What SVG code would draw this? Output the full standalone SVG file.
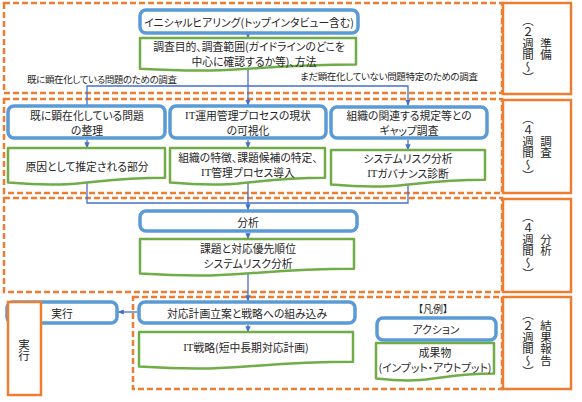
<svg xmlns="http://www.w3.org/2000/svg" width="582" height="402" viewBox="0 0 582 402">
<defs>
<style>
text{font-family:"Noto Sans CJK JP","Noto Sans",sans-serif;fill:#262626;font-size:10.8px;text-anchor:middle;dominant-baseline:central;font-feature-settings:"palt" 1;}
.lat{font-family:"Liberation Serif",serif;}
.sec{fill:none;stroke:#ED7D31;stroke-width:2.5;stroke-dasharray:6 3;}
.lbl{fill:#fff;stroke:#ED7D31;stroke-width:2.5;}
.act{fill:#fff;stroke:#5B9BD5;stroke-width:3.5;}
.doc{fill:#fff;stroke:#70AD47;stroke-width:2.5;stroke-linejoin:round;}
.con{fill:none;stroke:#4472C4;stroke-width:1.3;}
.small{font-size:9.5px;}
.vt{writing-mode:vertical-rl;font-size:11.5px;font-feature-settings:normal;}
</style>
<marker id="ah" viewBox="0 0 10 10" refX="9" refY="5" markerWidth="5" markerHeight="5" orient="auto">
<path d="M0,1 L10,5 L0,9 z" fill="#4472C4"/>
</marker>
</defs>
<rect width="582" height="402" fill="#fff"/>

<g id="sections">
<rect class="sec" x="4" y="3" width="498" height="90"/>
<rect class="sec" x="4" y="99" width="498" height="94"/>
<rect class="sec" x="4" y="198" width="498" height="94"/>
<rect class="sec" x="133" y="297" width="369" height="92"/>
</g>

<g id="phase-prep">
<rect class="lbl" x="503" y="3" width="68" height="91"/>
<text class="vt" x="528" y="49">（２週間～）</text>
<text class="vt" x="546" y="49">準備</text>
</g>
<g id="phase-survey">
<rect class="lbl" x="503" y="100" width="68" height="93"/>
<text class="vt" x="528" y="147">（４週間～）</text>
<text class="vt" x="546" y="147">調査</text>
</g>
<g id="phase-analysis">
<rect class="lbl" x="503" y="199" width="68" height="93"/>
<text class="vt" x="528" y="245">（４週間～）</text>
<text class="vt" x="546" y="245">分析</text>
</g>
<g id="phase-report">
<rect class="lbl" x="503" y="297" width="68" height="92"/>
<text class="vt" x="528" y="343">（２週間～）</text>
<text class="vt" x="546" y="343">結果報告</text>
</g>

<g id="connectors">
<line class="con" x1="248" y1="34" x2="248" y2="38" marker-end="url(#ah)"/>
<polyline class="con" points="248,68 248,105.5" marker-end="url(#ah)"/>
<polyline class="con" points="87,105 87,86 408,86 408,105.5" marker-end="url(#ah)"/>
<line class="con" x1="87" y1="140" x2="87" y2="148" marker-end="url(#ah)"/>
<line class="con" x1="248" y1="140" x2="248" y2="148" marker-end="url(#ah)"/>
<line class="con" x1="408" y1="140" x2="408" y2="150" marker-end="url(#ah)"/>
<polyline class="con" points="87,182 87,203 408,203 408,184"/>
<line class="con" x1="248" y1="183" x2="248" y2="210" marker-end="url(#ah)"/>
<line class="con" x1="248" y1="233" x2="248" y2="239" marker-end="url(#ah)"/>
<line class="con" x1="248" y1="273" x2="248" y2="301" marker-end="url(#ah)"/>
<line class="con" x1="248" y1="325" x2="248" y2="332" marker-end="url(#ah)"/>
<line class="con" x1="137" y1="312" x2="118" y2="312" marker-end="url(#ah)"/>
</g>

<g id="edge-labels">
<text class="small" x="102" y="79" textLength="150">既に顕在化している問題のための調査</text>
<text class="small" x="389" y="76" textLength="178">まだ顕在化していない問題特定のための調査</text>
</g>

<g id="n-hearing">
<rect class="act" x="140" y="10" width="218" height="23" rx="6"/>
<text x="249" y="22">イニシャルヒアリング(トップインタビュー含む)</text>
</g>
<g id="n-purpose">
<path class="doc" d="M140,38 H356 V64.5 C248,64.5 248,74.5 140,68.8 Z"/>
<text x="249" y="46">調査目的、調査範囲(ガイドラインのどこを</text>
<text x="254" y="60.5">中心に確認するか等)、方法</text>
</g>

<g id="n-existing">
<rect class="act" x="8" y="106" width="157" height="32" rx="6"/>
<text x="87" y="115">既に顕在化している問題</text>
<text x="87" y="130">の整理</text>
</g>
<g id="n-itprocess">
<rect class="act" x="170" y="106" width="156" height="32" rx="6"/>
<text x="248" y="115"><tspan class="lat">IT</tspan>運用管理プロセスの現状</text>
<text x="248" y="130">の可視化</text>
</g>
<g id="n-gap">
<rect class="act" x="331" y="107" width="156" height="31" rx="6"/>
<text x="409" y="115">組織の関連する規定等との</text>
<text x="409" y="130">ギャップ調査</text>
</g>

<g id="n-cause">
<path class="doc" d="M8,148 H165 V177.7 C86.5,177.7 86.5,189 8,182.6 Z"/>
<text x="87" y="166">原因として推定される部分</text>
</g>
<g id="n-features">
<path class="doc" d="M170,148 H325 V177.7 C247.5,177.7 247.5,189 170,182.6 Z"/>
<text x="248" y="156.5">組織の特徴、課題候補の特定、</text>
<text x="248" y="171.5"><tspan class="lat">IT</tspan>管理プロセス導入</text>
</g>
<g id="n-risk">
<path class="doc" d="M331,150 H485 V179.7 C408,179.7 408,191 331,184.6 Z"/>
<text x="408" y="157.5">システムリスク分析</text>
<text x="408" y="172.5"><tspan class="lat">IT</tspan>ガバナンス診断</text>
</g>

<g id="n-analysis">
<rect class="act" x="140" y="211" width="217" height="20" rx="6"/>
<text x="248" y="222">分析</text>
</g>
<g id="n-priority">
<path class="doc" d="M140,239 H354 V268.7 C247,268.7 247,280 140,273.6 Z"/>
<text x="248" y="247.5">課題と対応優先順位</text>
<text x="248" y="262.5">システムリスク分析</text>
</g>

<g id="n-plan">
<rect class="act" x="139" y="302" width="216" height="21" rx="6"/>
<text x="247" y="313">対応計画立案と戦略への組み込み</text>
</g>
<g id="n-strategy">
<path class="doc" d="M139,332 H353 V361.7 C246,361.7 246,373 139,366.6 Z"/>
<text x="246" y="347"><tspan class="lat">IT</tspan>戦略(短中長期対応計画)</text>
</g>

<g id="n-exec-action">
<rect class="act" x="7" y="302" width="110" height="21" rx="6"/>
<text x="62" y="313">実行</text>
</g>
<g id="phase-exec">
<rect class="lbl" x="8" y="302" width="33" height="93"/>
<text class="vt" x="24" y="350">実行</text>
</g>

<g id="legend">
<text x="433" y="308" style="font-size:10px">【凡例】</text>
<g id="legend-action">
<rect class="act" x="377" y="318" width="119" height="22" rx="6"/>
<text x="436" y="329">アクション</text>
</g>
<g id="legend-output">
<path class="doc" d="M376,343 H494 V373.5 C435,373.5 435,385 376,378.5 Z"/>
<text x="435" y="352">成果物</text>
<text x="435" y="367">(インプット・アウトプット)</text>
</g>
</g>
</svg>
